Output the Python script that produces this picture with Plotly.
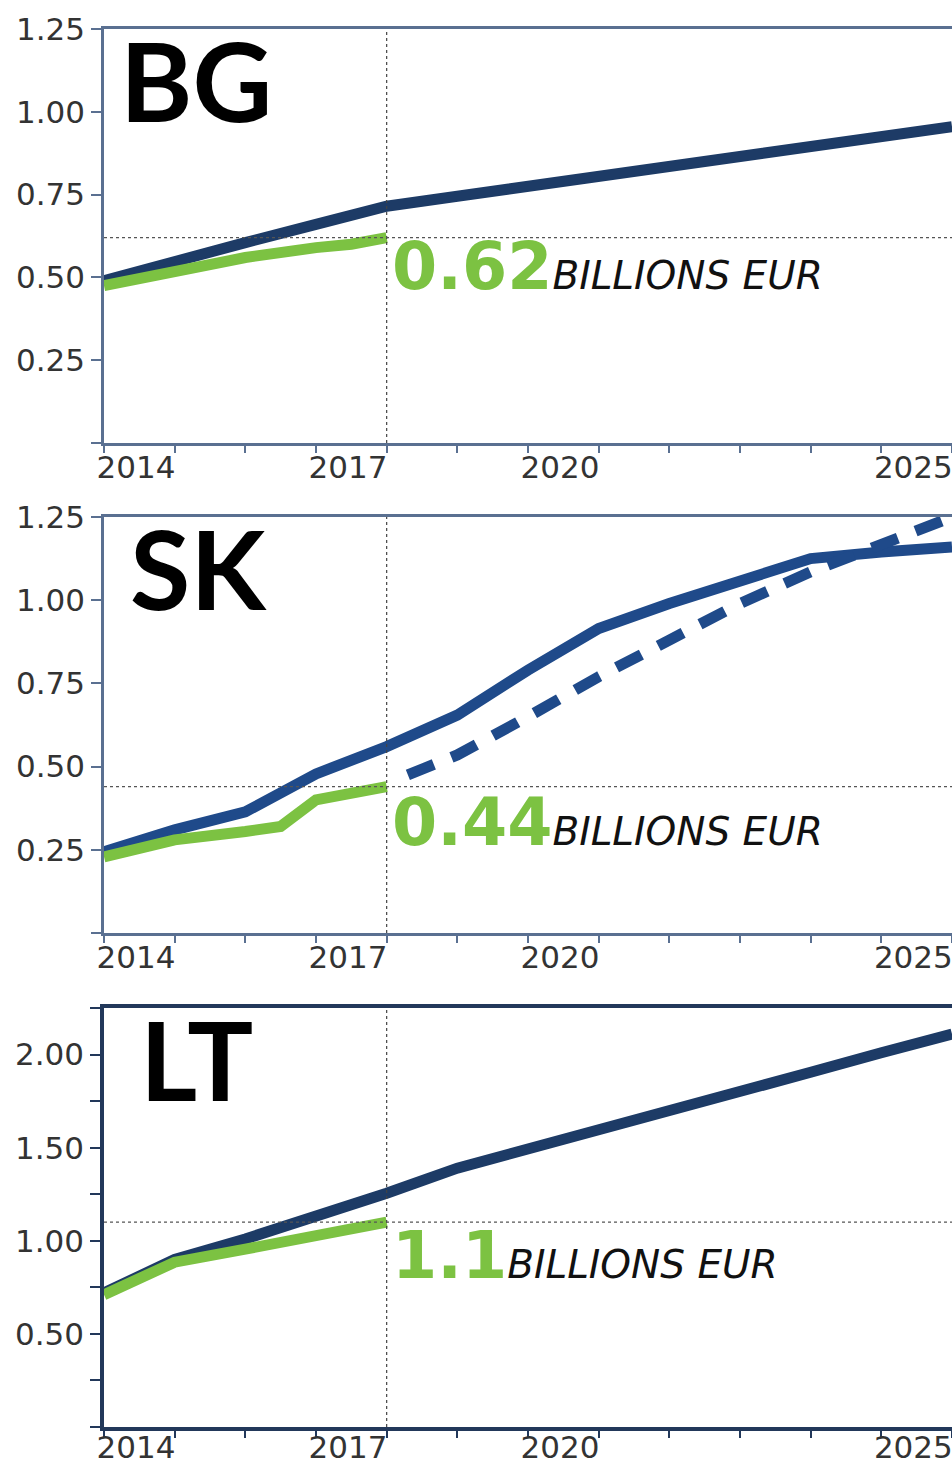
import plotly.graph_objects as go

# ---------------- data ----------------
years_tick = list(range(2014, 2027))
tick_labels = {2014: "2014", 2017: "2017", 2020: "2020", 2025: "2025"}

# BG
bg_target_x = [2014, 2015, 2016, 2017, 2018, 2019, 2020, 2021, 2022, 2023, 2024, 2025, 2026]
bg_target_y = [0.49, 0.55, 0.605, 0.66, 0.715, 0.745, 0.775, 0.805, 0.835, 0.865, 0.895, 0.925, 0.955]
bg_actual_x = [2014, 2015, 2016, 2017, 2017.5, 2018]
bg_actual_y = [0.475, 0.52, 0.56, 0.59, 0.60, 0.62]
bg_value = 0.62

# SK
sk_target_x = [2014, 2015, 2016, 2017, 2018, 2019, 2020, 2021, 2022, 2023, 2024, 2025, 2026]
sk_target_y = [0.244, 0.31, 0.364, 0.478, 0.56, 0.655, 0.79, 0.915, 0.99, 1.06, 1.125, 1.145, 1.16]
sk_proj_x = [2018.3, 2019, 2020, 2021, 2022, 2023, 2024, 2025, 2026]
sk_proj_y = [0.475, 0.535, 0.65, 0.77, 0.88, 0.99, 1.085, 1.17, 1.25]
sk_actual_x = [2014, 2015, 2016, 2016.5, 2017, 2017.5, 2018]
sk_actual_y = [0.229, 0.28, 0.305, 0.32, 0.40, 0.42, 0.44]
sk_value = 0.44

# LT
lt_target_x = [2014, 2015, 2016, 2017, 2018, 2019, 2020, 2021, 2022, 2023, 2024, 2025, 2026]
lt_target_y = [0.72, 0.90, 1.01, 1.13, 1.255, 1.39, 1.49, 1.59, 1.695, 1.80, 1.905, 2.01, 2.11]
lt_actual_x = [2014, 2015, 2016, 2017, 2018]
lt_actual_y = [0.71, 0.885, 0.955, 1.03, 1.10]
lt_value = 1.1

countries = ["BG", "SK", "LT"]
value_labels = ["0.62", "0.44", "1.1"]
unit_label = "BILLIONS EUR"
cutoff_year = 2018

# ---------------- styling ----------------
NAVY = "#1d3b66"
NAVY_SK = "#1f4a8a"
GREEN = "#7cc242"
W, H = 952, 1465

panels = [(29, 443), (517, 933), (1008, 1427)]
label_x = [0.0165, 0.028, 0.040]
value_yshift = [11, 4, 6]
xlabel_standoff = [-12, -12, -17]

fig = go.Figure()

def dom(top, bottom):
    return [1 - bottom / H, 1 - top / H]

series = [
    (bg_target_x, bg_target_y, None, None, bg_actual_x, bg_actual_y, NAVY),
    (sk_target_x, sk_target_y, sk_proj_x, sk_proj_y, sk_actual_x, sk_actual_y, NAVY_SK),
    (lt_target_x, lt_target_y, None, None, lt_actual_x, lt_actual_y, NAVY),
]
for i, (tx, ty, px, py, ax_, ay, ncol) in enumerate(series):
    xa = "x" if i == 0 else f"x{i+1}"
    ya = "y" if i == 0 else f"y{i+1}"
    fig.add_trace(go.Scatter(x=tx, y=ty, mode="lines", xaxis=xa, yaxis=ya,
                             line=dict(color=ncol, width=11), showlegend=False, hoverinfo="skip"))
    if px is not None:
        fig.add_trace(go.Scatter(x=px, y=py, mode="lines", xaxis=xa, yaxis=ya,
                                 line=dict(color=ncol, width=11, dash="28px,19px"),
                                 showlegend=False, hoverinfo="skip"))
    fig.add_trace(go.Scatter(x=ax_, y=ay, mode="lines", xaxis=xa, yaxis=ya,
                             line=dict(color=GREEN, width=11), showlegend=False, hoverinfo="skip"))

yranges = [[0, 1.25], [0, 1.25], [0, 2.25]]
ytickvals = [[0, 0.25, 0.5, 0.75, 1.0, 1.25], [0, 0.25, 0.5, 0.75, 1.0, 1.25],
             [0, 0.25, 0.5, 0.75, 1.0, 1.25, 1.5, 1.75, 2.0, 2.25]]
yticktexts = [["", "0.25", "0.50", "0.75", "1.00", "1.25"],
              ["", "0.25", "0.50", "0.75", "1.00", "1.25"],
              ["", "", "0.50", "", "1.00", "", "1.50", "", "2.00", ""]]
values = [bg_value, sk_value, lt_value]
axcolors = ["#5a7091", "#5a7091", "#22385a"]
axwidths = [2.5, 2.5, 3.5]

tickfont = dict(family="DejaVu Sans", size=31, color="#333333")
layout = dict(width=W, height=H, margin=dict(l=104, r=0, t=0, b=0),
              paper_bgcolor="white", plot_bgcolor="white", showlegend=False)

shapes = []
annotations = []
for i, (top, bottom) in enumerate(panels):
    sfx = "" if i == 0 else str(i + 1)
    layout[f"xaxis{sfx}"] = dict(
        domain=[0, 1], anchor=f"y{sfx}", range=[2014, 2026],
        tickmode="array", tickvals=years_tick,
        ticktext=[tick_labels.get(y, "") for y in years_tick],
        ticks="outside", ticklen=7, tickwidth=1.5, tickcolor=axcolors[i],
        showline=True, linecolor=axcolors[i], linewidth=axwidths[i], mirror=True,
        showgrid=False, zeroline=False, tickfont=tickfont, ticklabelshift=32,
        ticklabelstandoff=xlabel_standoff[i], ticklabeloverflow="allow",
        automargin=False, fixedrange=True)
    layout[f"yaxis{sfx}"] = dict(
        domain=dom(top, bottom), anchor=f"x{sfx}", range=yranges[i],
        tickmode="array", tickvals=ytickvals[i], ticktext=yticktexts[i],
        ticks="outside", ticklen=10, tickwidth=1.5, tickcolor=axcolors[i],
        showline=True, linecolor=axcolors[i], linewidth=axwidths[i], mirror=False,
        showgrid=False, zeroline=False, tickfont=tickfont, automargin=False,
        fixedrange=True)
    xr = "x" + sfx
    yr = "y" + sfx
    shapes.append(dict(type="line", xref=xr, yref=f"{yr} domain", x0=cutoff_year, x1=cutoff_year,
                       y0=0, y1=1, line=dict(color="#444444", width=1.2, dash="3px,3px")))
    shapes.append(dict(type="line", xref=f"{xr} domain", yref=yr, x0=0, x1=1,
                       y0=values[i], y1=values[i], line=dict(color="#555555", width=1.2, dash="3px,3px")))
    annotations.append(dict(xref=f"{xr} domain", yref=f"{yr} domain", x=label_x[i], y=1.0,
                            xanchor="left", yanchor="top", showarrow=False,
                            text=f"<b>{countries[i]}</b>",
                            font=dict(family="Lato", size=110, color="#000000"), yshift=18))
    annotations.append(dict(xref=xr, yref=yr, x=cutoff_year + 0.05, y=values[i],
                            xanchor="left", yanchor="top", showarrow=False,
                            text=(f"<b><span style='font-size:65px;color:{GREEN}'>{value_labels[i]}</span></b>"
                                  f"<i>{unit_label}</i>"),
                            font=dict(family="DejaVu Sans", size=39, color="#111111"),
                            yshift=value_yshift[i]))

layout["shapes"] = shapes
layout["annotations"] = annotations
fig.update_layout(**layout)
fig.write_html("out.html", config={"displayModeBar": False},
               post_script="document.body.style.margin='0';document.body.style.overflow='hidden';")
